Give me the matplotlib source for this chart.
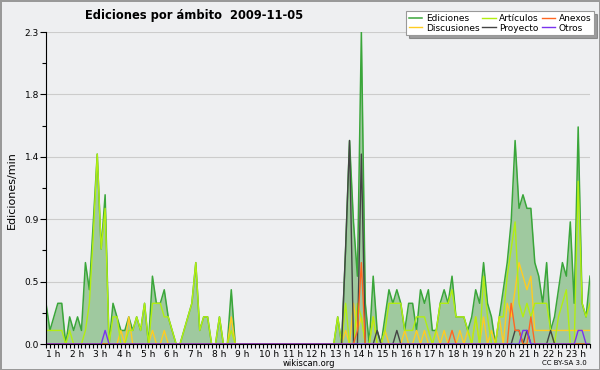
import numpy as np
import matplotlib
matplotlib.use('Agg')
import matplotlib.pyplot as plt
import matplotlib.transforms as mtransforms

# editions per minute, one value every 10 minutes, starting at 1 h
ediciones = [0.3, 0.1, 0.2, 0.3, 0.3, 0.0,
             0.2, 0.1, 0.2, 0.1, 0.6, 0.4,
             0.9, 1.4, 0.7, 1.1, 0.0, 0.3,
             0.2, 0.1, 0.1, 0.2, 0.1, 0.2,
             0.1, 0.3, 0.0, 0.5, 0.3, 0.3,
             0.4, 0.2, 0.1, 0.0, 0.0, 0.1,
             0.2, 0.3, 0.6, 0.1, 0.2, 0.2,
             0.0, 0.0, 0.2, 0.0, 0.0, 0.4,
             0.0, 0.0, 0.0, 0.0, 0.0, 0.0,
             0.0, 0.0, 0.0, 0.0, 0.0, 0.0,
             0.0, 0.0, 0.0, 0.0, 0.0, 0.0,
             0.0, 0.0, 0.0, 0.0, 0.0, 0.0,
             0.0, 0.0, 0.2, 0.0, 0.7, 1.5,
             0.9, 0.5, 2.3, 0.3, 0.0, 0.5,
             0.1, 0.0, 0.2, 0.4, 0.3, 0.4,
             0.3, 0.1, 0.3, 0.3, 0.1, 0.4,
             0.3, 0.4, 0.1, 0.1, 0.3, 0.4,
             0.3, 0.5, 0.2, 0.2, 0.2, 0.1,
             0.2, 0.4, 0.3, 0.6, 0.3, 0.2,
             0.0, 0.2, 0.4, 0.6, 0.9, 1.5,
             1.0, 1.1, 1.0, 1.0, 0.6, 0.5,
             0.3, 0.6, 0.1, 0.2, 0.4, 0.6,
             0.5, 0.9, 0.3, 1.6, 0.3, 0.2,
             0.5]

articulos = [0.1, 0.1, 0.1, 0.1, 0.1, 0.0,
             0.1, 0.0, 0.0, 0.0, 0.1, 0.3,
             0.8, 1.4, 0.7, 1.0, 0.0, 0.2,
             0.2, 0.0, 0.0, 0.1, 0.1, 0.2,
             0.1, 0.3, 0.0, 0.3, 0.3, 0.3,
             0.2, 0.2, 0.1, 0.0, 0.0, 0.1,
             0.2, 0.3, 0.6, 0.1, 0.2, 0.2,
             0.0, 0.0, 0.2, 0.0, 0.0, 0.1,
             0.0, 0.0, 0.0, 0.0, 0.0, 0.0,
             0.0, 0.0, 0.0, 0.0, 0.0, 0.0,
             0.0, 0.0, 0.0, 0.0, 0.0, 0.0,
             0.0, 0.0, 0.0, 0.0, 0.0, 0.0,
             0.0, 0.0, 0.2, 0.0, 0.3, 0.0,
             0.0, 0.3, 0.2, 0.0, 0.0, 0.2,
             0.0, 0.0, 0.1, 0.3, 0.3, 0.3,
             0.3, 0.1, 0.1, 0.1, 0.2, 0.2,
             0.2, 0.1, 0.0, 0.1, 0.3, 0.3,
             0.3, 0.4, 0.2, 0.2, 0.2, 0.1,
             0.0, 0.2, 0.0, 0.5, 0.2, 0.0,
             0.0, 0.2, 0.2, 0.5, 0.7, 0.9,
             0.3, 0.2, 0.3, 0.2, 0.3, 0.3,
             0.3, 0.3, 0.1, 0.0, 0.2, 0.3,
             0.4, 0.0, 0.0, 1.2, 0.3, 0.2,
             0.3]

discusiones = [0.0, 0.0, 0.0, 0.0, 0.0, 0.0,
               0.0, 0.0, 0.0, 0.0, 0.0, 0.0,
               0.0, 0.0, 0.0, 0.0, 0.0, 0.0,
               0.0, 0.1, 0.0, 0.2, 0.0, 0.0,
               0.0, 0.0, 0.0, 0.1, 0.0, 0.0,
               0.1, 0.0, 0.0, 0.0, 0.0, 0.0,
               0.0, 0.0, 0.0, 0.0, 0.0, 0.0,
               0.0, 0.0, 0.0, 0.0, 0.0, 0.2,
               0.0, 0.0, 0.0, 0.0, 0.0, 0.0,
               0.0, 0.0, 0.0, 0.0, 0.0, 0.0,
               0.0, 0.0, 0.0, 0.0, 0.0, 0.0,
               0.0, 0.0, 0.0, 0.0, 0.0, 0.0,
               0.0, 0.0, 0.0, 0.0, 0.1, 0.0,
               0.3, 0.1, 0.2, 0.0, 0.0, 0.2,
               0.0, 0.0, 0.1, 0.0, 0.0, 0.0,
               0.0, 0.1, 0.0, 0.0, 0.1, 0.0,
               0.1, 0.0, 0.0, 0.1, 0.0, 0.1,
               0.0, 0.0, 0.0, 0.1, 0.0, 0.1,
               0.0, 0.2, 0.0, 0.2, 0.0, 0.1,
               0.0, 0.2, 0.0, 0.3, 0.2, 0.4,
               0.6, 0.5, 0.4, 0.5, 0.1, 0.1,
               0.1, 0.1, 0.1, 0.1, 0.1, 0.1,
               0.1, 0.1, 0.1, 0.1, 0.1, 0.1,
               0.1]

anexos = [0.0] * 79 + [0.1, 0.6] + [0.0] * 22 + [0.1] + [0.0] * 14 + \
         [0.3, 0.1, 0.1, 0.0, 0.0, 0.2] + [0.0] * 15

proyecto = [0.0] * 76 + [0.7, 1.5, 0.0, 0.0, 1.4] + [0.0] * 3 + [0.1] + \
           [0.0] * 4 + [0.1] + [0.0] * 29 + [0.1, 0.1, 0.0, 0.1] + \
           [0.0] * 5 + [0.1] + [0.0] * 10

otros = [0.0] * 15 + [0.1] + [0.0] * 105 + [0.1, 0.1] + [0.0] * 12 + \
        [0.1, 0.1, 0.0, 0.0]

horas = np.arange(1, 24)
x = 1 + np.arange(len(ediciones)) / 6.0

bg = '#eeeff1'
fig = plt.figure(figsize=(6, 3.7), dpi=100, facecolor=bg,
                 edgecolor='#999999', linewidth=2)
ax = fig.add_axes([46/600, 1-344/370, 544/600, 312/370])
ax.set_facecolor(bg)

ax.fill_between(x, ediciones, color='#9fc99f', lw=0)
ax.plot(x, ediciones, color='#3aa63a', lw=1.1, label='Ediciones')
ax.plot(x, discusiones, color='#ffcc22', lw=1.0, label='Discusiones')
ax.plot(x, articulos, color='#b2ee11', lw=1.0, label='Artículos')
ax.plot(x, proyecto, color='#444444', lw=1.0, label='Proyecto')
ax.plot(x, anexos, color='#ff6622', lw=1.0, label='Anexos')
ax.plot(x, otros, color='#7a33ee', lw=1.0, label='Otros')

ax.set_xlim(1, 24)
ax.set_ylim(0, 2.3)
yt = np.linspace(0, 2.3, 6)
ax.set_yticks(yt)
ax.set_yticklabels(['%.1f' % v for v in yt])
ax.set_yticks((yt[:-1] + yt[1:]) / 2, minor=True)
ax.set_xticks(horas)
ax.set_xticklabels(['%d h' % h for h in horas], ha='left')
ax.set_xticks(x, minor=True)
off = mtransforms.ScaledTranslation(-2/72, 0, fig.dpi_scale_trans)
for lab in ax.get_xticklabels():
    lab.set_transform(lab.get_transform() + off)
ax.tick_params(axis='both', which='both', direction='out', length=3,
               width=0.8, labelsize=6.5, pad=1, colors='black')
ax.tick_params(axis='y', which='major', length=4)
ax.yaxis.grid(True, color='#cccccc', lw=0.8)
ax.set_axisbelow(True)
for s in ['top', 'right']:
    ax.spines[s].set_visible(False)

fig.text(12/600, 1-190/370, 'Ediciones/min', fontsize=8, rotation=90,
         ha='center', va='center')
fig.text(0.515, 1-363/370, 'wikiscan.org', fontsize=6, ha='center', va='center')
fig.text(0.978, 1-363/370, 'CC BY-SA 3.0', fontsize=5, ha='right', va='center')
fig.text(85/600, 1-16/370, 'Ediciones por ámbito  2009-11-05',
         fontsize=8.3, fontweight='bold', va='center')

leg = fig.legend(loc='upper right', bbox_to_anchor=(594/600, 1-11/370), ncol=3,
                 fontsize=6.5, frameon=True, shadow=True, fancybox=False,
                 borderpad=0.3, labelspacing=0.1, handlelength=1.5,
                 handletextpad=0.4, columnspacing=0.3, borderaxespad=0)
leg.get_frame().set_edgecolor('#999999')
leg.get_frame().set_facecolor('white')
leg.get_frame().set_linewidth(0.8)

fig.savefig('out.png', dpi=100, facecolor=bg)
